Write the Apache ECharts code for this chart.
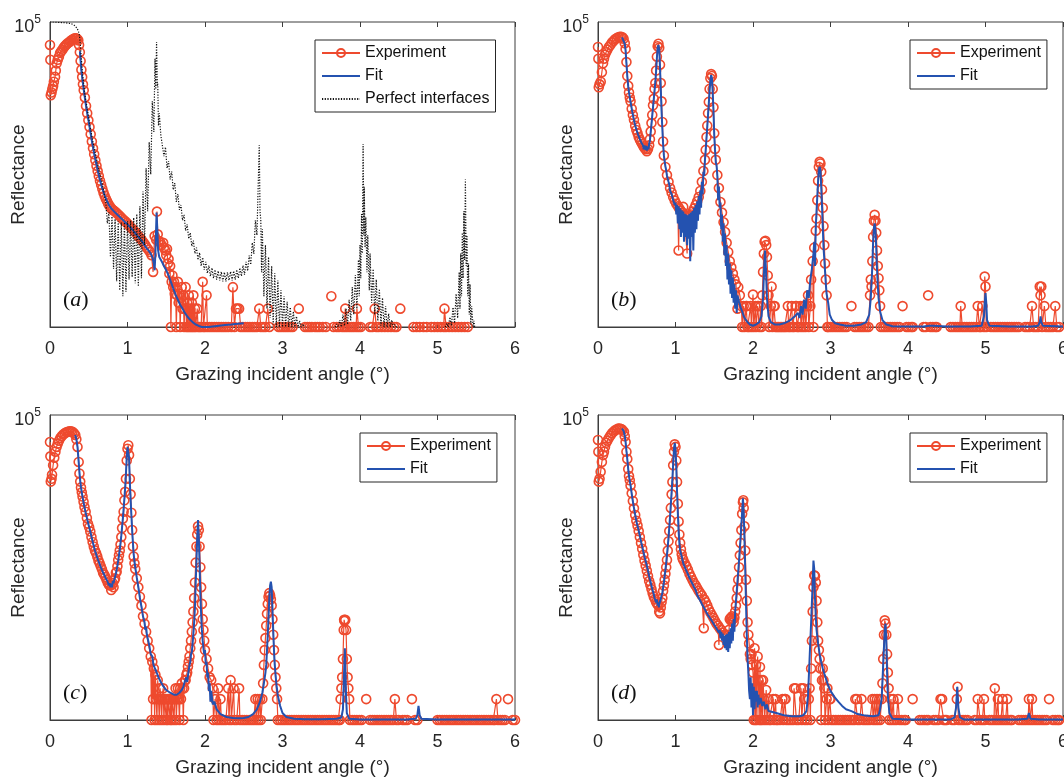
<!DOCTYPE html>
<html>
<head>
<meta charset="utf-8">
<script src="https://cdn.jsdelivr.net/npm/echarts@6/dist/echarts.min.js"></script>
<style>
html,body{margin:0;padding:0;background:#fff;}
#chart{width:1064px;height:778px;}
</style>
</head>
<body>
<div id="chart"></div>
<script>
// ---------- data (angle in degrees, reflectance in counts) ----------
const panelLabels = ['a', 'b', 'c', 'd'];
const xTickMin = 0, xTickMax = 6, xTickStep = 1;
const yMin = 1, yMax = 100000;

const expA = [
[0,42000],[0.005,24000],[0.01,6300],[0.02,7000],[0.03,8000],[0.04,8900],[0.05,10500],[0.065,12600],[0.075,16000],[0.086,21000],[0.1,24000],[0.115,27000],[0.13,31000],[0.145,33000],[0.16,35000],[0.175,38000],[0.19,40000],[0.205,42000],[0.22,44000],[0.24,46000],[0.26,48000],[0.275,50000],[0.29,51000],[0.305,53000],[0.32,54000],[0.335,54000],[0.35,53000],[0.365,50000],
[0.375,42000],[0.385,32000],[0.395,23000],[0.405,16500],[0.415,12500],[0.425,9500],[0.435,7600],[0.45,5800],[0.465,4200],[0.48,3200],[0.495,2450],[0.51,1900],[0.525,1450],[0.54,1100],[0.555,850],[0.57,680],[0.585,540],[0.6,440],[0.615,360],[0.63,300],[0.645,250],[0.66,215],[0.675,185],[0.69,160],[0.705,142],[0.72,128],[0.735,116],[0.75,106],[0.765,98],[0.78,92],[0.795,87],[0.81,83],[0.83,80],[0.85,76],[0.87,72],[0.89,68],[0.91,64],[0.93,60],[0.95,57],[0.97,54],[0.99,51],[1.01,48],[1.03,45],[1.05,42],[1.07,40],[1.09,37],[1.11,35],[1.13,32],[1.15,30],[1.17,28],[1.19,26],[1.21,24],[1.23,22],[1.25,20],[1.27,18.5],[1.29,17],[1.31,15],[1.33,8],[1.35,31],[1.37,27],[1.38,78],[1.39,33],[1.4,26],[1.42,25],[1.44,22],[1.46,24],[1.47,20],[1.49,18],[1.5,15],[1.51,19],[1.52,11],[1.53,13],[1.54,7.5],[1.55,10],
[1.56,1],[1.57,5.5],[1.58,7],[1.59,4.5],[1.6,5.5],[1.61,3.5],[1.62,4.5],[1.63,1],[1.64,3.3],[1.65,5.5],[1.66,2.5],[1.67,3.5],[1.68,1],[1.69,3],[1.7,4.5],[1.71,2],[1.72,3.3],[1.73,1],[1.74,2],[1.75,4.5],[1.76,1],[1.77,2.5],[1.78,1],[1.79,3.3],[1.8,1],[1.81,2],[1.82,1],[1.83,2.5],[1.84,1],[1.85,3.3],[1.86,1],[1.87,2],[1.88,1],[1.9,2],[1.91,1],[1.93,1],[1.95,1],[1.97,5.5],[1.98,1],[2,1],[2.02,3.3],[2.03,1],[2.06,1],[2.09,1],[2.12,1],[2.15,1],[2.18,1],[2.21,1],[2.24,1],[2.27,1],[2.3,1],[2.34,1],[2.36,4.5],[2.38,1],[2.4,2],[2.42,2],[2.44,2],[2.46,1],[2.49,1],[2.52,1],[2.55,1],[2.58,1],[2.61,1],[2.64,1],[2.67,1],[2.7,2],[2.72,1],[2.75,1],[2.78,1],[2.81,2],[2.83,1],[2.86,null],
[2.95,1],[2.98,1],[3.01,1],[3.04,1],[3.07,1],[3.1,1],[3.13,1],[3.16,null],[3.21,2],[3.23,null],[3.29,1],[3.32,1],[3.35,1],[3.38,1],[3.42,1],[3.45,1],[3.48,1],[3.52,1],[3.56,1],[3.58,null],[3.63,3.2],[3.645,null],[3.66,1],[3.7,1],[3.73,1],[3.77,1],[3.8,1],[3.81,2],[3.83,1],[3.86,1],[3.89,1],[3.92,1],[3.95,1],[3.96,2],[3.98,1],[4.01,1],[4.03,null],[4.13,1],[4.16,1],[4.19,2],[4.21,1],[4.24,1],[4.28,1],[4.32,1],[4.36,1],[4.4,1],[4.44,1],[4.47,1],[4.49,null],[4.52,2],[4.54,null],[4.69,1],[4.73,1],[4.77,1],[4.82,1],[4.86,1],[4.88,null],[4.92,1],[4.96,1],[5,1],[5.04,1],[5.08,1],[5.09,2],[5.11,1],[5.15,1],[5.19,1],[5.23,1],[5.27,1],[5.31,1],[5.35,1],[5.39,1]
];

const fitA = [
[0.386,33000],[0.395,23000],[0.405,16000],[0.42,11000],[0.44,7000],[0.46,4600],[0.48,3200],[0.5,2300],[0.52,1600],[0.55,950],[0.58,600],[0.61,400],[0.64,270],[0.67,195],[0.7,150],[0.73,120],[0.76,100],[0.79,88],[0.82,80],[0.85,73],[0.88,67],[0.91,62],[0.94,57],[0.97,52],[1,48],[1.03,44],[1.06,40],[1.09,36],[1.12,32],[1.15,29],[1.18,26],[1.21,23],[1.24,20],[1.27,18],[1.3,16],[1.32,14],[1.34,11],[1.35,8.5],[1.36,16],[1.375,75],[1.385,40],[1.395,18],[1.41,14],[1.44,12],[1.47,10],[1.5,8.5],[1.53,7],[1.56,5.5],[1.59,4.3],[1.62,3.4],[1.65,2.8],[1.68,2.3],[1.71,2],[1.74,1.7],[1.77,1.5],[1.8,1.35],[1.84,1.2],[1.88,1.1],[1.92,1.04],[1.96,1],[2,1],[2.05,1],[2.1,1.02],[2.18,1.05],[2.26,1.08],[2.34,1.1],[2.42,1.13],[2.5,1.15]
];

const perfA = [
[0,100000],[0.05,100000],[0.1,99000],[0.15,98000],[0.2,97000],[0.25,95000],[0.29,92000],[0.32,87000],[0.345,80000],[0.365,72000],[0.38,60000],[0.39,45000],[0.4,30000],[0.42,14000],[0.45,6500],[0.48,3800],[0.51,2200],[0.55,1150],[0.59,650],[0.63,380],[0.67,240],[0.7,150],
[0.72,110],[0.74,50],[0.76,76],[0.78,14],[0.8,65],[0.82,8.9],[0.84,59],[0.86,5.6],[0.88,54],[0.9,4],[0.92,52],[0.94,3.2],[0.96,52],[0.98,3.8],[1,54],[1.02,6],[1.04,56],[1.06,6.6],[1.08,62],[1.1,5.2],[1.12,71],[1.14,4.6],[1.16,95],[1.18,6.3],[1.2,166],[1.22,22],[1.24,400],[1.26,79],[1.28,1070],[1.3,316],[1.32,5000],[1.34,1580],[1.355,25000],[1.365,7900],[1.375,47000],
[1.385,8900],[1.39,10000],[1.4,2000],[1.41,3200],[1.43,1400],[1.45,1400],[1.47,630],[1.49,890],[1.51,400],[1.53,525],[1.55,263],[1.57,355],[1.59,178],[1.61,229],[1.63,112],[1.65,151],[1.67,83],[1.69,100],[1.71,56],[1.73,69],[1.75,38],[1.77,48],[1.79,28],[1.81,35],[1.83,21],[1.85,26],[1.87,16],[1.89,20],[1.91,12.6],[1.93,16.6],[1.95,10],[1.97,13.8],[1.99,8.7],[2.01,11.7],[2.03,7.6],[2.05,10.2],[2.07,6.8],[2.09,9.3],[2.11,6.3],[2.13,8.7],[2.15,6],[2.17,8.3],[2.19,5.8],[2.21,8.1],[2.23,5.6],[2.25,7.9],[2.27,5.6],[2.29,7.9],[2.31,5.8],[2.33,8.1],[2.35,5.8],[2.37,8.3],[2.39,6],[2.41,8.7],[2.43,6.3],[2.45,9.3],[2.47,6.8],[2.49,10.2],[2.51,7.2],[2.53,11.7],[2.55,8.3],[2.57,14.8],[2.59,10.5],[2.61,24],[2.63,15.8],[2.65,56],[2.67,32],[2.69,316],[2.7,955],[2.71,79],[2.72,56],[2.73,7.9],[2.74,40],[2.76,3.2],[2.78,22],[2.8,2],[2.82,14],[2.84,1.4],[2.86,10],[2.88,1.1],[2.9,7.6],[2.92,1],[2.94,5.8],[2.96,1],[2.98,4],[3,1],[3.02,3.2],[3.04,1],[3.06,2.6],[3.08,1],[3.1,2.1],[3.12,1],[3.14,1.8],[3.16,1],[3.18,1.5],[3.2,1],[3.22,1.26],[3.24,1],[3.26,1.12],[3.29,1],[3.5,null],
[3.68,1],[3.7,1.12],[3.72,1],[3.74,1.3],[3.76,1],[3.78,1.6],[3.8,1.05],[3.82,2],[3.84,1.1],[3.86,2.8],[3.88,1.26],[3.9,4.5],[3.92,1.6],[3.94,7.1],[3.96,2],[3.98,12.6],[3.99,3.2],[4,22],[4.01,6.3],[4.02,71],[4.03,16],[4.04,1000],[4.05,32],[4.055,200],[4.065,20],[4.075,63],[4.09,7.9],[4.1,32],[4.12,4],[4.13,16],[4.15,2.5],[4.17,8.9],[4.19,1.6],[4.21,6],[4.23,1.26],[4.25,4.2],[4.27,1.05],[4.29,3],[4.31,1],[4.33,2.2],[4.35,1],[4.37,1.66],[4.39,1],[4.41,1.3],[4.43,1],[4.45,1.1],[4.47,1],[4.8,null],
[5.1,1],[5.12,1.15],[5.14,1],[5.16,1.45],[5.18,1.05],[5.2,2.1],[5.22,1.15],[5.24,3.5],[5.26,1.4],[5.28,7.9],[5.29,2],[5.3,16],[5.31,3.2],[5.32,35],[5.33,6.3],[5.34,79],[5.35,12.6],[5.36,263],[5.37,10],[5.38,32],[5.39,3.2],[5.4,11],[5.41,1.6],[5.42,5],[5.43,1.1],[5.44,2.2],[5.46,1],[5.47,1.26],[5.48,1]
];

const expB = [
[0,39000],[0.005,25000],[0.01,8500],[0.02,9500],[0.035,10500],[0.05,15000],[0.065,21000],[0.077,25000],[0.09,29000],[0.105,32000],[0.12,35000],[0.14,39000],[0.16,42000],[0.18,46000],[0.2,49000],[0.22,52000],[0.24,54000],[0.26,56000],[0.28,57000],[0.3,57000],[0.315,56000],[0.33,53000],[0.345,45000],[0.356,36000],[0.367,22000],[0.378,13000],[0.39,9000],[0.4,7000],[0.41,5800],[0.42,5000],[0.435,3800],[0.45,3000],[0.464,2500],[0.48,2000],[0.495,1700],[0.51,1500],[0.525,1300],[0.54,1180],[0.555,1080],[0.57,1000],[0.585,920],[0.6,860],[0.615,820],[0.63,760],[0.645,830],[0.66,950],[0.67,1200],[0.68,1600],[0.69,2200],[0.7,3000],[0.71,4300],[0.72,5500],[0.73,8000],[0.74,10000],[0.75,16000],[0.76,27000],[0.77,40000],[0.78,44000],[0.79,38000],[0.8,20000],[0.81,10000],[0.82,5000],[0.83,2300],[0.84,1100],[0.85,650],[0.87,420],[0.89,310],[0.91,240],[0.93,190],[0.95,160],[0.97,135],[0.99,118],[1.01,105],[1.03,95],[1.04,18],[1.05,88],[1.07,80],[1.09,75],[1.1,93],[1.11,70],[1.13,65],[1.15,16],[1.16,64],[1.18,66],[1.2,70],[1.22,78],[1.24,88],[1.26,100],[1.28,115],[1.3,135],[1.32,170],[1.34,240],[1.36,360],[1.38,550],[1.39,800],[1.4,1300],[1.41,2000],[1.42,3200],[1.43,4900],[1.44,8000],[1.45,12000],[1.46,14000],[1.47,13000],[1.48,8000],[1.49,4000],[1.5,1500],[1.51,830],[1.52,550],[1.54,310],[1.56,190],[1.58,112],[1.6,75],[1.62,52],[1.64,36],[1.66,24],[1.68,17],[1.7,12],[1.72,9.5],[1.74,7.5],[1.76,6],[1.78,5],[1.8,2],[1.81,4.5],[1.83,3.3],[1.85,2.2],
[1.86,1],[1.88,2.2],[1.89,1],[1.91,2.2],[1.92,2.2],[1.93,1],[1.95,1],[1.97,2.2],[1.98,1],[2,3.4],[2.01,1],[2.03,2.2],[2.04,1],[2.06,2.2],[2.07,2.2],[2.08,1],[2.1,2.2],[2.11,1],[2.12,3.3],[2.13,8],[2.14,16],[2.15,25],[2.16,26],[2.17,22],[2.18,14],[2.19,7],[2.2,3.3],[2.21,1],[2.23,2.2],[2.24,4.6],[2.25,1],[2.27,2.2],[2.28,2.2],[2.29,1],[2.31,1],[2.33,1],[2.35,1],[2.37,1],[2.39,1],[2.41,1],[2.43,1],[2.45,2.2],[2.46,1],[2.48,1],[2.5,2.2],[2.51,1],[2.53,1],[2.55,2.2],[2.56,2.2],[2.57,1],[2.59,1],[2.61,2.2],[2.62,1],[2.64,2.2],[2.65,1],[2.67,2.2],[2.68,1],[2.7,2.2],[2.71,3.3],[2.72,1],[2.74,2.2],[2.75,6],[2.77,12],[2.78,1],[2.79,20],[2.81,38],[2.82,60],[2.83,120],[2.84,250],[2.85,420],[2.86,510],[2.87,480],[2.88,350],[2.89,180],[2.9,90],[2.91,45],[2.92,22],[2.93,11],[2.94,6],[2.95,3.3],[2.96,1],
[2.97,1],[3,1],[3.03,1],[3.06,1],[3.09,1],[3.12,1],[3.15,1],[3.18,1],[3.21,1],[3.23,null],[3.27,2.2],[3.29,null],[3.31,1],[3.34,1],[3.37,1],[3.4,1],[3.43,1],[3.46,1],[3.49,1],[3.51,3.3],[3.52,6],[3.53,4.6],[3.54,12],[3.55,30],[3.56,55],[3.57,69],[3.58,55],[3.59,35],[3.6,18],[3.61,10],[3.62,6.3],[3.63,4],[3.64,2.2],[3.65,1],[3.68,1],[3.71,1],[3.74,1],[3.77,1],[3.8,1],[3.83,1],[3.86,1],[3.89,1],[3.91,null],[3.93,2.2],[3.95,null],[3.98,1],[4.01,1],[4.04,1],[4.06,1],[4.08,null],[4.2,1],[4.23,1],[4.245,null],[4.26,3.3],[4.275,null],[4.29,1],[4.32,1],[4.35,1],[4.37,1],[4.39,null],[4.55,1],[4.58,1],[4.61,1],[4.64,1],[4.67,1],[4.68,2.2],[4.7,1],[4.73,1],[4.76,1],[4.79,1],[4.82,1],[4.85,1],[4.88,1],[4.9,2.2],[4.92,1],[4.94,1],[4.96,2.2],[4.98,1],[4.99,6.7],[5,4.6],[5.01,1],[5.03,null],[5.07,1],[5.1,1],[5.13,1],[5.16,1],[5.19,1],[5.22,1],[5.25,1],[5.28,1],[5.31,1],[5.34,1],[5.37,1],[5.4,1],[5.43,1],[5.45,null],[5.51,1],[5.54,1],[5.57,1],[5.6,2.2],[5.62,1],[5.65,1],[5.68,1],[5.7,4.6],[5.71,3.3],[5.72,4.6],[5.73,1],[5.76,2.2],[5.78,1],[5.81,1],[5.84,1],[5.87,1],[5.9,2.2],[5.92,1],[5.95,1]
];

const fitB = [
[0.31,56000],[0.33,52000],[0.345,44000],[0.356,34000],[0.367,21000],[0.378,13000],[0.39,8800],[0.4,7000],[0.42,4900],[0.44,3500],[0.46,2600],[0.48,2000],[0.5,1650],[0.52,1400],[0.54,1200],[0.56,1050],[0.58,950],[0.59,820],[0.6,950],[0.61,800],[0.62,930],[0.63,780],[0.64,900],[0.65,820],[0.66,1000],[0.67,1150],[0.68,1550],[0.69,2100],[0.7,2900],[0.71,4000],[0.72,5500],[0.73,7500],[0.74,10500],[0.75,16000],[0.76,26000],[0.77,38000],[0.78,42000],[0.79,36000],[0.8,18000],[0.81,8000],[0.82,3500],[0.83,1800],[0.84,1000],[0.85,650],[0.86,520],[0.87,430],[0.88,370],[0.89,300],[0.9,280],[0.91,240],[0.92,215],[0.93,170],[0.94,175],[0.95,150],[0.96,140],[0.97,120],[0.98,125],[0.99,100],[1,110],[1.01,70],[1.02,100],[1.03,50],[1.04,95],[1.05,40],[1.06,88],[1.07,30],[1.08,82],[1.09,35],[1.1,78],[1.11,25],[1.12,72],[1.13,30],[1.14,70],[1.15,22],[1.16,68],[1.17,28],[1.18,72],[1.19,12],[1.2,75],[1.21,30],[1.22,80],[1.23,18],[1.24,90],[1.25,35],[1.26,100],[1.27,40],[1.28,115],[1.29,55],[1.3,140],[1.31,70],[1.32,175],[1.33,90],[1.34,240],[1.35,150],[1.36,350],[1.37,300],[1.38,550],[1.39,800],[1.4,1250],[1.41,1900],[1.42,3000],[1.43,4700],[1.44,7500],[1.45,11000],[1.46,13500],[1.47,12000],[1.48,7000],[1.49,3500],[1.5,1400],[1.51,800],[1.52,500],[1.53,450],[1.54,300],[1.55,120],[1.56,200],[1.57,90],[1.58,110],[1.59,40],[1.6,70],[1.61,25],[1.62,50],[1.63,15],[1.64,34],[1.65,10],[1.66,22],[1.67,6],[1.68,16],[1.69,5],[1.7,11],[1.71,3.5],[1.72,8.5],[1.73,3],[1.74,6.5],[1.75,2.5],[1.76,5],[1.77,2],[1.78,4],[1.79,1.7],[1.8,3.3],[1.82,2.6],[1.84,2.1],[1.86,1.8],[1.88,1.5],[1.9,1.35],[1.93,1.2],[1.96,1.1],[2,1.05],[2.04,1.1],[2.08,1.2],[2.11,1.5],[2.13,3],[2.145,10],[2.155,18],[2.165,10],[2.18,3],[2.2,1.5],[2.23,1.2],[2.28,1.1],[2.34,1.1],[2.4,1.15],[2.46,1.25],[2.5,1.35],[2.54,1.5],[2.58,1.7],[2.6,1.4],[2.62,2.2],[2.64,1.6],[2.66,2.8],[2.68,2],[2.7,4],[2.72,3],[2.74,6],[2.76,9],[2.78,16],[2.79,25],[2.8,10],[2.81,45],[2.82,80],[2.83,140],[2.84,250],[2.85,380],[2.86,425],[2.87,380],[2.88,200],[2.89,100],[2.9,45],[2.91,20],[2.92,13],[2.93,8],[2.94,5],[2.95,3.5],[2.97,2.5],[2.99,1.6],[3.02,1.3],[3.06,1.15],[3.12,1.1],[3.2,1.05],[3.3,1.05],[3.4,1.1],[3.46,1.2],[3.5,1.6],[3.52,3],[3.54,10],[3.55,25],[3.56,42],[3.57,50],[3.58,40],[3.59,20],[3.6,9],[3.61,5],[3.62,3],[3.64,1.8],[3.67,1.3],[3.72,1.1],[3.8,1.03],[4,1.02],[4.2,1.02],[4.28,1.05],[4.3,1.12],[4.32,1.05],[4.5,1.02],[4.8,1.02],[4.95,1.05],[4.98,1.5],[4.99,2.5],[5,3.6],[5.01,2.5],[5.02,1.3],[5.05,1.05],[5.3,1.02],[5.6,1.02],[5.68,1.05],[5.7,1.2],[5.71,1.5],[5.72,1.2],[5.74,1.05],[6,1.02]
];

const expC = [
[0,36000],[0.005,21000],[0.01,8100],[0.02,9000],[0.026,10500],[0.04,15000],[0.055,20000],[0.07,25000],[0.085,30000],[0.1,34000],[0.115,38000],[0.133,42000],[0.15,45000],[0.17,48000],[0.19,50000],[0.21,52000],[0.23,53000],[0.25,54000],[0.27,54000],[0.29,53000],[0.31,50000],[0.326,47000],[0.34,40000],[0.355,30000],[0.37,17000],[0.38,11000],[0.39,8100],[0.4,6500],[0.41,5400],[0.42,4600],[0.433,3800],[0.445,3100],[0.46,2600],[0.476,2050],[0.49,1650],[0.505,1450],[0.52,1230],[0.535,1000],[0.55,830],[0.565,700],[0.58,600],[0.595,540],[0.61,480],[0.625,410],[0.64,370],[0.655,330],[0.67,295],[0.685,260],[0.7,240],[0.715,220],[0.73,200],[0.745,180],[0.76,165],[0.775,160],[0.79,135],[0.8,165],[0.81,175],[0.82,150],[0.83,195],[0.84,210],[0.85,260],[0.86,270],[0.87,330],[0.88,420],[0.89,500],[0.9,600],[0.91,750],[0.92,1000],[0.93,1400],[0.94,2000],[0.95,2600],[0.96,4000],[0.97,5500],[0.98,9000],[0.99,18000],[1,28000],[1.01,32000],[1.02,22000],[1.03,9000],[1.04,5000],[1.05,2500],[1.06,1300],[1.07,700],[1.08,480],[1.09,370],[1.1,300],[1.12,210],[1.14,150],[1.16,105],[1.18,75],[1.2,50],[1.22,38],[1.24,28],[1.26,20],[1.28,15],[1.3,11],
[1.31,1],[1.32,9],[1.33,2.2],[1.34,7],[1.35,1],[1.36,5.5],[1.37,2.2],[1.38,1],[1.39,4.5],[1.4,2.2],[1.41,1],[1.42,3.3],[1.43,2.2],[1.44,1],[1.45,2.2],[1.46,3.3],[1.47,1],[1.48,2.2],[1.49,2.2],[1.5,1],[1.51,2.2],[1.52,1],[1.53,2.2],[1.54,2.2],[1.55,1],[1.56,2.2],[1.57,1],[1.58,2.2],[1.59,2.2],[1.6,1],[1.61,2.2],[1.62,3.3],[1.63,1],[1.64,2.2],[1.65,3.3],[1.66,2.2],[1.67,1],[1.68,3.3],[1.69,2.2],[1.7,4],[1.71,3.3],[1.72,1],[1.73,3.3],[1.74,4.5],[1.75,4.5],[1.76,5.5],[1.77,6],[1.78,7.5],[1.79,9],[1.8,11],[1.81,15],[1.82,20],[1.83,28],[1.84,40],[1.85,60],[1.86,100],[1.87,180],[1.88,380],[1.89,700],[1.9,1100],[1.91,1500],[1.92,1300],[1.93,700],[1.94,320],[1.95,150],[1.96,80],[1.97,45],[1.98,30],[1.99,20],[2,14],[2.02,10],[2.04,7],[2.06,5],[2.08,4.5],[2.1,3.3],
[2.11,1],[2.13,2.2],[2.15,1],[2.17,3.3],[2.18,1],[2.2,2.2],[2.21,1],[2.24,1],[2.27,1],[2.3,3.3],[2.31,1],[2.33,4.5],[2.34,1],[2.37,3.3],[2.38,1],[2.41,1],[2.44,3.3],[2.45,1],[2.48,1],[2.51,1],[2.54,1],[2.57,1],[2.6,1],[2.63,1],[2.65,2.2],[2.66,1],[2.68,2.2],[2.69,1],[2.71,2.2],[2.72,1],[2.74,2.2],[2.75,4],[2.76,8],[2.77,14],[2.78,22],[2.79,35],[2.8,55],[2.81,80],[2.82,105],[2.83,120],[2.84,110],[2.85,95],[2.86,75],[2.87,45],[2.88,25],[2.89,14],[2.9,8],[2.91,5],[2.92,3.3],[2.93,2.2],
[2.94,1],[2.97,1],[3,1],[3.03,1],[3.06,1],[3.09,1],[3.12,1],[3.15,1],[3.18,1],[3.21,1],[3.24,1],[3.27,1],[3.3,1],[3.33,1],[3.36,1],[3.39,1],[3.42,1],[3.45,1],[3.48,1],[3.51,1],[3.54,1],[3.57,1],[3.6,1],[3.63,1],[3.66,1],[3.69,1],[3.72,1],[3.74,1],[3.75,2.2],[3.76,3.3],[3.77,5],[3.78,10],[3.79,30],[3.795,44],[3.8,42],[3.81,44],[3.82,30],[3.83,10],[3.84,5],[3.85,3.3],[3.86,2.2],[3.87,1],[3.9,1],[3.93,1],[3.96,1],[3.99,1],[4.02,1],[4.04,null],[4.08,2.2],[4.1,null],[4.13,1],[4.16,1],[4.19,1],[4.22,1],[4.25,1],[4.28,1],[4.31,1],[4.34,1],[4.37,1],[4.4,1],[4.43,1],[4.45,2.2],[4.47,1],[4.5,1],[4.52,null],[4.55,1],[4.58,1],[4.61,1],[4.63,null],[4.67,2.2],[4.69,null],[4.71,1],[4.74,1],[4.76,null],
[5,1],[5.03,1],[5.06,1],[5.09,1],[5.12,1],[5.15,1],[5.18,1],[5.21,1],[5.24,1],[5.27,1],[5.3,1],[5.33,1],[5.36,1],[5.39,1],[5.42,1],[5.45,1],[5.48,1],[5.51,1],[5.54,1],[5.57,1],[5.6,1],[5.63,1],[5.66,1],[5.69,1],[5.72,1],[5.74,1],[5.76,2.2],[5.78,1],[5.81,1],[5.84,1],[5.87,1],[5.89,null],[5.91,2.2],[5.93,null],[5.97,1],[6,1]
];

const fitC = [
[0.326,47000],[0.34,40000],[0.355,30000],[0.37,17000],[0.385,9500],[0.4,6500],[0.42,4500],[0.44,3300],[0.46,2500],[0.48,1950],[0.5,1550],[0.52,1230],[0.54,950],[0.56,750],[0.58,600],[0.6,500],[0.62,420],[0.64,360],[0.66,310],[0.68,270],[0.7,240],[0.72,210],[0.74,190],[0.76,160],[0.77,175],[0.78,150],[0.79,170],[0.8,150],[0.81,190],[0.82,175],[0.83,200],[0.84,220],[0.85,250],[0.86,290],[0.87,340],[0.88,410],[0.89,500],[0.9,620],[0.91,800],[0.92,1050],[0.93,1450],[0.94,2000],[0.95,2900],[0.96,4300],[0.97,6500],[0.98,11000],[0.99,20000],[1,30000],[1.01,32000],[1.02,20000],[1.03,8000],[1.04,4200],[1.05,2300],[1.06,1300],[1.07,800],[1.08,520],[1.09,400],[1.1,320],[1.12,215],[1.14,150],[1.16,100],[1.18,72],[1.2,50],[1.22,40],[1.23,30],[1.24,34],[1.25,25],[1.26,26],[1.28,17],[1.29,18],[1.3,12],[1.32,11],[1.335,8],[1.35,7.2],[1.37,6.3],[1.4,5],[1.43,4.2],[1.46,3.6],[1.5,3.1],[1.55,2.8],[1.6,2.6],[1.635,2.6],[1.67,2.8],[1.7,3.1],[1.72,3.5],[1.74,4.3],[1.76,5],[1.77,4.2],[1.785,6],[1.8,8],[1.81,9],[1.82,12],[1.83,13],[1.84,18],[1.85,26],[1.86,40],[1.87,70],[1.88,180],[1.89,400],[1.9,1000],[1.91,1900],[1.92,1000],[1.93,350],[1.94,120],[1.95,55],[1.96,30],[1.97,20],[1.98,15],[1.99,12],[2,14],[2.01,8],[2.02,9],[2.03,5],[2.04,6],[2.05,3],[2.06,4],[2.07,2],[2.08,3],[2.1,1.8],[2.12,2],[2.15,1.5],[2.2,1.25],[2.28,1.12],[2.36,1.08],[2.44,1.07],[2.5,1.08],[2.56,1.12],[2.62,1.25],[2.67,1.5],[2.71,2],[2.74,2.8],[2.76,4],[2.78,6],[2.79,8],[2.8,14],[2.81,25],[2.82,50],[2.83,100],[2.84,160],[2.85,185],[2.86,150],[2.87,70],[2.88,30],[2.89,14],[2.9,8],[2.92,4],[2.94,2.5],[2.97,1.7],[3,1.3],[3.05,1.12],[3.15,1.05],[3.3,1.03],[3.5,1.03],[3.7,1.05],[3.76,1.1],[3.78,1.5],[3.79,4],[3.8,10],[3.805,15],[3.81,8],[3.82,2.5],[3.83,1.3],[3.86,1.05],[4,1.02],[4.3,1.02],[4.6,1.02],[4.72,1.05],[4.74,1.2],[4.755,1.7],[4.77,1.2],[4.79,1.05],[5,1.02],[5.5,1.02],[6,1.02]
];

const expD = [
[0,39000],[0.005,25000],[0.01,8100],[0.02,9000],[0.034,11700],[0.05,17000],[0.065,22000],[0.077,25000],[0.09,30000],[0.105,35000],[0.12,38000],[0.14,42000],[0.16,46000],[0.18,50000],[0.2,53000],[0.22,56000],[0.24,58000],[0.26,60000],[0.28,60000],[0.3,59000],[0.315,57000],[0.335,53000],[0.345,45000],[0.356,36000],[0.367,25000],[0.378,19000],[0.39,13000],[0.4,10000],[0.41,8500],[0.42,7000],[0.435,5200],[0.45,3900],[0.464,2950],[0.48,2300],[0.495,1850],[0.51,1550],[0.525,1250],[0.54,1000],[0.555,800],[0.57,640],[0.585,510],[0.6,410],[0.615,340],[0.63,280],[0.645,230],[0.66,190],[0.675,165],[0.69,140],[0.705,120],[0.72,105],[0.735,95],[0.75,85],[0.765,80],[0.78,75],[0.79,60],[0.8,56],[0.81,70],[0.82,85],[0.83,100],[0.84,130],[0.85,160],[0.86,200],[0.87,250],[0.88,320],[0.89,420],[0.9,600],[0.91,850],[0.92,1250],[0.93,1900],[0.94,3000],[0.95,5000],[0.96,8000],[0.97,15000],[0.98,25000],[0.99,33000],[1,30000],[1.01,18000],[1.02,8000],[1.03,3500],[1.04,1800],[1.05,1100],[1.06,800],[1.07,630],[1.08,520],[1.09,450],[1.1,420],[1.12,370],[1.14,330],[1.16,290],[1.18,250],[1.2,220],[1.22,195],[1.24,175],[1.26,160],[1.28,145],[1.3,130],[1.32,120],[1.34,110],[1.365,32],[1.37,95],[1.39,85],[1.41,75],[1.43,65],[1.45,58],[1.47,52],[1.49,47],[1.51,42],[1.53,38],[1.55,35],[1.56,17],[1.57,32],[1.59,30],[1.61,27],[1.63,25],[1.65,24],[1.67,25],[1.69,30],[1.7,45],[1.71,47],[1.72,42],[1.73,50],[1.74,45],[1.75,40],[1.76,48],[1.77,60],[1.78,75],[1.79,100],[1.8,140],[1.81,200],[1.82,320],[1.83,500],[1.84,800],[1.85,1300],[1.86,2400],[1.87,3700],[1.875,4000],[1.88,3000],[1.89,1500],[1.9,600],[1.91,200],[1.92,90],[1.93,40],[1.94,25],[1.95,18],[1.96,12],[1.97,10],[1.98,12],[1.99,8],[2,6],
[2.01,1],[2.02,15],[2.03,1],[2.04,8],[2.05,1],[2.06,11],[2.07,4.5],[2.08,1],[2.09,7.4],[2.1,1],[2.11,4.5],[2.12,1],[2.13,4.5],[2.14,2.2],[2.15,1],[2.17,3.1],[2.18,1],[2.2,2.2],[2.21,1],[2.23,1],[2.26,2.2],[2.27,1],[2.29,2.2],[2.3,1],[2.32,1],[2.35,1],[2.38,2.2],[2.39,1],[2.41,2.2],[2.42,2.2],[2.43,1],[2.46,1],[2.49,1],[2.52,1],[2.53,3.3],[2.55,3.3],[2.56,1],[2.59,1],[2.62,3.3],[2.63,1],[2.65,3.3],[2.66,2.2],[2.67,1],[2.7,1],[2.72,2.2],[2.73,3.3],[2.74,1],[2.75,7],[2.76,20],[2.77,60],[2.78,150],[2.79,235],[2.8,230],[2.81,180],[2.82,90],[2.83,40],[2.84,20],[2.85,14],[2.86,10],[2.87,7],[2.88,1],[2.89,4.5],[2.9,7],[2.91,4.5],[2.92,3.3],[2.93,1],[2.95,2.2],[2.96,3.3],[2.97,1],[2.99,2.2],[3,2.2],[3.01,1],[3.04,1],[3.07,1],[3.1,1],[3.13,1],[3.16,1],[3.19,1],[3.22,1],[3.25,1],[3.28,1],[3.31,1],[3.32,2.2],[3.34,2.2],[3.35,1],[3.38,1],[3.4,2.2],[3.42,1],[3.45,1],[3.48,1],[3.51,1],[3.54,2.2],[3.55,1],[3.57,2.2],[3.58,1],[3.6,2.2],[3.61,1],[3.63,2.2],[3.64,1],[3.66,2.2],[3.67,4],[3.68,10],[3.69,25],[3.7,43],[3.71,38],[3.72,25],[3.73,12],[3.74,6],[3.75,3.3],[3.76,1],[3.78,2.2],[3.79,1],[3.81,2.2],[3.82,1],[3.85,1],[3.87,2.2],[3.89,1],[3.92,1],[3.95,1],[3.97,1],[3.99,null],[4.06,2.2],[4.08,null],[4.15,1],[4.18,1],[4.21,1],[4.24,1],[4.26,1],[4.28,null],[4.33,1],[4.36,1],[4.39,1],[4.42,2.2],[4.44,2.2],[4.46,1],[4.48,1],[4.5,1],[4.52,null],[4.57,1],[4.6,1],[4.63,2.2],[4.64,3.5],[4.65,1],[4.68,1],[4.71,1],[4.74,1],[4.77,1],[4.79,null],[4.86,1],[4.89,1],[4.9,2.2],[4.93,1],[4.96,1],[4.98,2.2],[4.99,1],[5.01,null],[5.05,1],[5.08,1],[5.11,1],[5.12,3.3],[5.14,1],[5.16,2.2],[5.17,1],[5.2,1],[5.22,2.2],[5.23,1],[5.26,1],[5.28,2.2],[5.29,1],[5.32,1],[5.34,1],[5.36,null],[5.43,1],[5.46,1],[5.49,1],[5.52,1],[5.55,1],[5.56,2.2],[5.58,1],[5.6,2.2],[5.61,1],[5.64,1],[5.67,1],[5.7,1],[5.73,1],[5.76,1],[5.79,1],[5.81,null],[5.82,2.2],[5.84,null],[5.87,1],[5.9,1],[5.93,1],[5.95,1]
];

const fitD = [
[0.31,60000],[0.33,55000],[0.345,46000],[0.356,36000],[0.367,26000],[0.378,19000],[0.39,13000],[0.4,10000],[0.42,7000],[0.44,4600],[0.46,3200],[0.48,2300],[0.5,1700],[0.52,1350],[0.54,1050],[0.56,800],[0.58,620],[0.6,480],[0.62,380],[0.64,300],[0.66,230],[0.68,180],[0.7,140],[0.72,115],[0.73,100],[0.74,105],[0.75,85],[0.76,95],[0.77,75],[0.78,85],[0.785,70],[0.79,80],[0.8,78],[0.81,95],[0.82,110],[0.83,120],[0.84,150],[0.85,180],[0.86,230],[0.87,290],[0.88,380],[0.89,520],[0.9,700],[0.91,1000],[0.92,1450],[0.93,2200],[0.94,3500],[0.95,5500],[0.96,9000],[0.97,16000],[0.98,27000],[0.99,35000],[1,28000],[1.01,14000],[1.02,5500],[1.03,2500],[1.04,1250],[1.05,800],[1.06,600],[1.07,560],[1.08,480],[1.09,420],[1.1,370],[1.12,320],[1.14,280],[1.16,245],[1.18,215],[1.2,190],[1.22,170],[1.24,150],[1.26,135],[1.28,112],[1.3,100],[1.32,90],[1.34,80],[1.36,72],[1.38,65],[1.4,58],[1.42,52],[1.44,48],[1.46,45],[1.48,40],[1.5,36],[1.52,33],[1.54,30],[1.56,27],[1.57,30],[1.58,22],[1.59,28],[1.6,20],[1.61,26],[1.62,17],[1.63,24],[1.64,15],[1.65,25],[1.66,14],[1.67,26],[1.68,13],[1.69,28],[1.7,15],[1.71,32],[1.72,18],[1.73,38],[1.74,20],[1.75,45],[1.76,28],[1.77,60],[1.78,90],[1.79,130],[1.8,190],[1.81,280],[1.82,420],[1.83,650],[1.84,1000],[1.85,1600],[1.86,2600],[1.87,4300],[1.88,2500],[1.89,900],[1.9,280],[1.91,80],[1.92,25],[1.93,10],[1.94,6],[1.95,3],[1.96,2.2],[1.97,5],[1.98,1.6],[1.99,4],[2,1.2],[2.01,3.5],[2.02,1.5],[2.03,3],[2.04,2],[2.05,3],[2.06,1.6],[2.07,2.6],[2.08,1.8],[2.1,2.3],[2.12,1.7],[2.14,2],[2.16,1.5],[2.18,1.8],[2.2,1.4],[2.25,1.35],[2.3,1.3],[2.4,1.2],[2.5,1.15],[2.6,1.15],[2.65,1.2],[2.69,1.4],[2.71,2.5],[2.73,10],[2.75,40],[2.77,180],[2.78,410],[2.79,300],[2.8,100],[2.81,50],[2.82,30],[2.84,18],[2.86,12],[2.88,9],[2.9,7],[2.92,5.8],[2.96,4],[3,3],[3.05,2.4],[3.1,2],[3.15,1.7],[3.2,1.5],[3.27,1.4],[3.35,1.25],[3.45,1.18],[3.55,1.15],[3.62,1.2],[3.64,1.5],[3.66,2.2],[3.68,8],[3.7,30],[3.71,38],[3.72,20],[3.73,6],[3.74,2.5],[3.76,1.3],[3.8,1.05],[4,1.02],[4.3,1.02],[4.55,1.02],[4.6,1.1],[4.62,1.6],[4.635,3.5],[4.65,1.6],[4.67,1.1],[4.72,1.02],[5,1.02],[5.4,1.02],[5.54,1.05],[5.56,1.3],[5.58,1.05],[5.7,1.02],[6,1.02]
];

const legendNames = [['Experiment','Fit','Perfect interfaces'],['Experiment','Fit'],['Experiment','Fit'],['Experiment','Fit']];
const xTitle = 'Grazing incident angle (°)';
const yTitle = 'Reflectance';

// ---------- styling / layout ----------
const RED = '#ee4a2e', BLUE = '#2452b0', INK = '#262626', AX = '#3d3d3d';
const FONT = '"Liberation Sans", Arial, Helvetica, sans-serif';
const gridPos = [
  {left: 50, top: 22}, {left: 598, top: 22}, {left: 50, top: 415}, {left: 598, top: 415}
];
const legendPos = [
  {left: 315, top: 40}, {left: 910, top: 40}, {left: 360, top: 433}, {left: 910, top: 433}
];
const labelPos = [
  {left: 63, top: 289}, {left: 611, top: 289}, {left: 63, top: 682}, {left: 611, top: 682}
];
const HIDDEN = {color: 'rgba(0,0,0,0)', borderColor: 'rgba(0,0,0,0)', borderWidth: 0};

const grids = [], xAxes = [], yAxes = [], legends = [], graphics = [];
gridPos.forEach((p, i) => {
  grids.push({left: p.left, top: p.top, width: 465, height: 305, show: true,
    outerBoundsMode: 'none', containLabel: false,
    borderColor: AX, borderWidth: 1, backgroundColor: '#fff'});
  xAxes.push({type: 'value', gridIndex: i, min: xTickMin, max: xTickMax, interval: xTickStep,
    name: xTitle, nameLocation: 'middle', nameGap: 38, nameMoveOverlap: false,
    nameTextStyle: {fontFamily: FONT, fontSize: 19, color: INK},
    axisLine: {show: true, onZero: false, lineStyle: {color: AX, width: 1}},
    axisTick: {show: true, inside: true, length: 5, lineStyle: {color: AX}},
    axisLabel: {show: true, fontFamily: FONT, fontSize: 18, color: INK, margin: 13, hideOverlap: false},
    splitLine: {show: false}});
  xAxes.push({type: 'value', gridIndex: i, position: 'top', min: xTickMin, max: xTickMax, interval: xTickStep,
    axisLine: {show: false},
    axisTick: {show: true, inside: true, length: 5, lineStyle: {color: AX}},
    axisLabel: {show: false}, splitLine: {show: false}});
  yAxes.push({type: 'log', logBase: 10, gridIndex: i, min: yMin, max: yMax,
    name: yTitle, nameLocation: 'middle', nameGap: 22, nameMoveOverlap: false,
    nameTextStyle: {fontFamily: FONT, fontSize: 19, color: INK},
    axisLine: {show: true, lineStyle: {color: AX, width: 1}},
    axisTick: {show: false}, splitLine: {show: false}, minorTick: {show: false},
    axisLabel: {show: true, showMaxLabel: true, margin: 9, padding: [10, 0, 0, 0],
      formatter: v => (v >= yMax * 0.999 ? '{b|10}{s|5}' : ''),
      rich: {b: {fontFamily: FONT, fontSize: 18, color: INK, lineHeight: 26},
             s: {fontFamily: FONT, fontSize: 12, color: INK, lineHeight: 12, verticalAlign: 'top'}}}});
  legends.push({
    data: legendNames[i].map(n => n === 'Experiment' ? {name: n} : {name: n, itemStyle: HIDDEN}),
    left: legendPos[i].left, top: legendPos[i].top, orient: 'vertical',
    itemWidth: 38, itemHeight: 10, itemGap: 7, padding: [5, 6, 5, 6],
    borderColor: INK, borderWidth: 1, backgroundColor: '#fff', selectedMode: false,
    textStyle: {fontFamily: FONT, fontSize: 16, color: '#111', lineHeight: 16, height: 16}});
  graphics.push({type: 'text', left: labelPos[i].left, top: labelPos[i].top, z: 100,
    style: {text: '{p|(}{i|' + panelLabels[i] + '}{p|)}',
      rich: {p: {fontFamily: '"Liberation Serif", "Times New Roman", serif', fontSize: 22, fill: '#111'},
             i: {fontFamily: '"Liberation Serif", "Times New Roman", serif', fontSize: 22, fontStyle: 'italic', fill: '#111'}}}});
});

function expSeries(data, gi) {
  return {type: 'line', name: 'Experiment', xAxisIndex: gi * 2, yAxisIndex: gi, data: data,
    symbol: 'circle', symbolSize: 9, showAllSymbol: true, connectNulls: false, clip: true,
    lineStyle: {color: RED, width: 1.2},
    itemStyle: {color: 'rgba(255,255,255,0)', borderColor: RED, borderWidth: 1.6},
    emphasis: {disabled: true}, z: 2};
}
function fitSeries(data, gi) {
  return {type: 'line', name: 'Fit', xAxisIndex: gi * 2, yAxisIndex: gi, data: data,
    symbol: 'none', showSymbol: false, clip: true,
    lineStyle: {color: BLUE, width: 2}, itemStyle: {color: BLUE},
    emphasis: {disabled: true}, z: 3};
}

const series = [
  expSeries(expA, 0), fitSeries(fitA, 0),
  {type: 'line', name: 'Perfect interfaces', xAxisIndex: 0, yAxisIndex: 0, data: perfA,
    symbol: 'none', showSymbol: false, clip: true, connectNulls: false,
    lineStyle: {color: '#111', width: 1.2, type: [1.2, 1.5]}, itemStyle: {color: '#111'},
    emphasis: {disabled: true}, z: 4},
  expSeries(expB, 1), fitSeries(fitB, 1),
  expSeries(expC, 2), fitSeries(fitC, 2),
  expSeries(expD, 3), fitSeries(fitD, 3)
];

const chart = echarts.init(document.getElementById('chart'), null, {renderer: 'canvas'});
chart.setOption({
  backgroundColor: '#fff', animation: false,
  grid: grids, xAxis: xAxes, yAxis: yAxes, legend: legends, graphic: graphics, series: series
});
</script>
</body>
</html>
